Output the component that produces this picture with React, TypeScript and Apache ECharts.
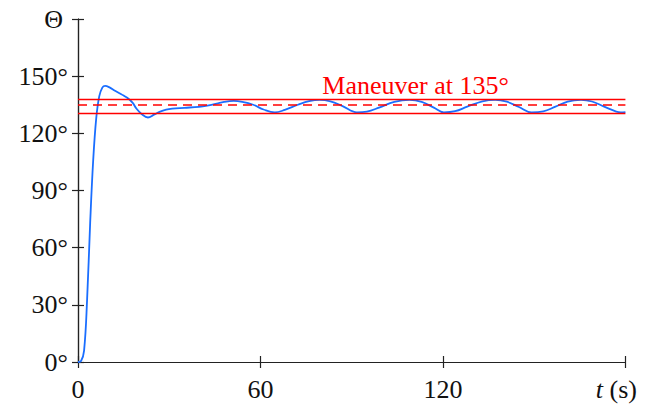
import React, { useEffect, useRef } from "react";
import * as echarts from "echarts";

// time (s)
const timeValues = [
  0, 1, 2, 3, 4, 5, 6, 7, 8, 8.9, 10.5, 12, 13.8, 15, 16.5, 18, 19.2, 21, 23, 25,
  26.8, 29, 31, 35, 39.8, 43, 45.6, 48, 51.2, 54, 57.6, 61, 64.7, 68, 72.3, 76,
  79.5, 83, 87, 91.7, 95, 99, 104, 109, 113, 117, 120.3, 124, 128, 133, 137.2,
  141, 145, 149.1, 153, 157, 161, 165.4, 169, 173, 177, 178.5, 180,
];
// heading Θ (deg)
const thetaValues = [
  0, 0.5, 6, 33, 73, 106, 128, 139.5, 144, 144.9, 144, 142.5, 140.9, 139.8, 138.3,
  136, 133, 130, 128.3, 129.8, 131.3, 132.5, 133, 133.4, 133.9, 134.7, 135.6,
  136.5, 137.0, 136.5, 135, 132.5, 131, 132.3, 135, 136.9, 137.6, 136.8, 134.3,
  131, 131.4, 133.5, 136.5, 137.6, 136.5, 133.5, 131, 131.6, 134, 136.8, 137.6,
  136.6, 133.8, 131, 131.5, 134, 136.7, 137.6, 136.7, 134, 131.4, 131, 131.1,
];
const targetAngle = 135;
const bandUpper = 138.1;
const bandLower = 130.5;
const annotationText = "Maneuver at 135°";
const annotationPoint = [111, 145];
const xTicks = [0, 60, 120, 180];
const yTicks = [0, 30, 60, 90, 120, 150, 180];

const FONT = "'Liberation Serif', 'DejaVu Serif', serif";

export default function App() {
  const ref = useRef<HTMLDivElement>(null);
  useEffect(() => {
    if (!ref.current) return;
    const chart = echarts.init(ref.current, null, { renderer: "svg" });
    const lineData = timeValues.map((t, i) => [t, thetaValues[i]]);
    const axisLine = { show: true, lineStyle: { color: "#222", width: 1.2 } };
    const tick = { show: true, inside: true, length: 6, lineStyle: { color: "#222", width: 1.2 } };
    const xMin = xTicks[0];
    const xMax = xTicks[xTicks.length - 1];
    const yMin = yTicks[0];
    const yMax = yTicks[yTicks.length - 1];
    chart.setOption({
      animation: false,
      grid: { left: 78, right: 17, top: 19, bottom: 43, containLabel: false },
      xAxis: [
        {
          type: "value",
          min: xMin,
          max: xMax,
          interval: 60,
          position: "bottom",
          axisLine,
          axisTick: tick,
          splitLine: { show: false },
          axisLabel: {
            margin: 14,
            fontFamily: FONT,
            fontSize: 26,
            color: "#111",
            formatter: (v: number) => (v === xMax ? "{i|t} (s){p|}" : String(v)),
            rich: {
              i: { fontStyle: "italic", fontFamily: FONT, fontSize: 26, color: "#111" },
              p: { width: 18 },
            },
          },
        },
        {
          type: "value",
          min: xMin,
          max: xMax,
          interval: 60,
          position: "top",
          axisLine,
          axisTick: tick,
          axisLabel: { show: false },
          splitLine: { show: false },
        },
      ],
      yAxis: [
        {
          type: "value",
          min: yMin,
          max: yMax,
          interval: 30,
          position: "left",
          axisLine,
          axisTick: tick,
          splitLine: { show: false },
          axisLabel: {
            margin: 10,
            fontFamily: FONT,
            fontSize: 26,
            color: "#111",
            formatter: (v: number) => (v === yMax ? "Θ{p|}" : v + "°"),
            rich: { p: { width: 5 } },
          },
        },
        {
          type: "value",
          min: yMin,
          max: yMax,
          interval: 30,
          position: "right",
          axisLine,
          axisTick: tick,
          axisLabel: { show: false },
          splitLine: { show: false },
        },
      ],
      series: [
        {
          type: "line",
          data: lineData,
          showSymbol: false,
          smooth: 0.4,
          lineStyle: { color: "#1a6eff", width: 1.8 },
          z: 3,
          markLine: {
            silent: true,
            symbol: ["none", "none"],
            label: { show: false },
            data: [
              { yAxis: bandUpper, lineStyle: { color: "#ff0000", width: 1.3, type: "solid" } },
              { yAxis: bandLower, lineStyle: { color: "#ff0000", width: 1.3, type: "solid" } },
              { yAxis: targetAngle, lineStyle: { color: "#ff0000", width: 1.6, type: [9, 6] } },
            ],
          },
        },
        {
          type: "scatter",
          data: [annotationPoint],
          symbolSize: 0,
          silent: true,
          itemStyle: { opacity: 1 },
          label: {
            show: true,
            position: "inside",
            formatter: annotationText,
            fontFamily: FONT,
            fontSize: 26,
            color: "#ff0000",
            opacity: 1,
          },
        },
      ],
    });
    return () => chart.dispose();
  }, []);
  return (
    <div
      ref={ref}
      style={{ position: "fixed", left: 0, top: 0, width: 649, height: 405, background: "#fff" }}
    />
  );
}
